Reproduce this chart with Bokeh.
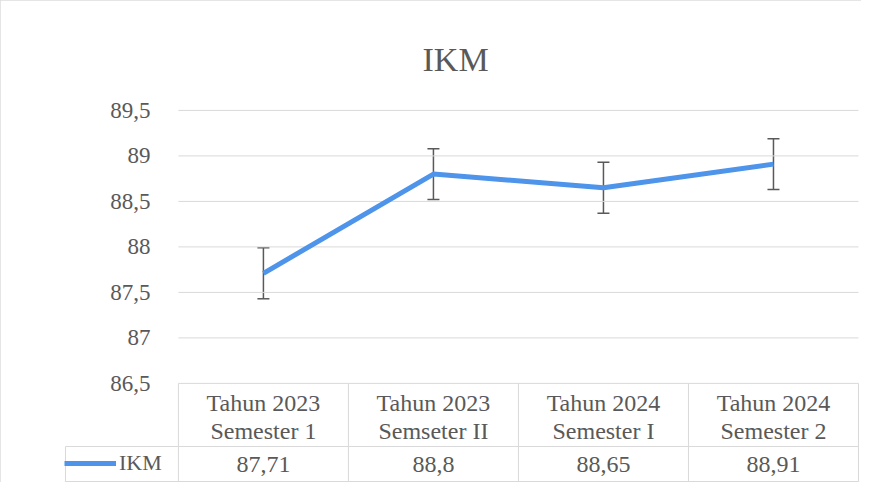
import numpy as np
from bokeh.plotting import figure
from bokeh.models import (Range1d, FixedTicker, ColumnDataSource, Whisker, TeeHead,
                          Legend, LegendItem)
from bokeh.core.properties import value
from bokeh.embed import file_html
from bokeh.resources import INLINE

# ---- data ----
categories = ["Tahun 2023\nSemester 1", "Tahun 2023\nSemseter II",
              "Tahun 2024\nSemester I", "Tahun 2024\nSemester 2"]
ikm = [87.71, 88.8, 88.65, 88.91]
ikm_labels = ["87,71", "88,8", "88,65", "88,91"]
ikm_err = [0.28, 0.28, 0.28, 0.28]
y_ticks = [86.5, 87, 87.5, 88, 88.5, 89, 89.5]
y_tick_labels = ["86,5", "87", "87,5", "88", "88,5", "89", "89,5"]
series_name = "IKM"
title_text = "IKM"

# ---- style ----
FONT = "Liberation Serif"
GRAY = "#595959"
GRID = "#d9d9d9"
BLUE = "#4d94ea"

# layout of the data table (y in data units below the axis minimum)
HEADER_Y = 86.131
ROW_SEP = 85.807
VALUE_Y = 85.609
TABLE_BOTTOM = 85.422
X_START = -0.670
CELL_LEFT = -0.664

n = len(categories)
xs = np.arange(n) + 0.5

p = figure(width=861, height=482, output_backend="svg", toolbar_location=None,
           x_axis_location=None,
           x_range=Range1d(X_START, n + 0.006), y_range=Range1d(85.411, 89.62),
           min_border_left=64, min_border_right=2, min_border_top=99,
           min_border_bottom=0)
p.styles = {"outline": "1px solid #dcdcdc", "outline-offset": "-1px"}
p.outline_line_color = None
p.background_fill_color = "white"
p.border_fill_color = "white"

p.title.text = title_text
p.title.align = "left"
p.title.offset = 358
p.title.standoff = 44
p.title.text_font = FONT
p.title.text_font_size = "34px"
p.title.text_font_style = "normal"
p.title.text_color = GRAY

p.xgrid.visible = False
p.ygrid.visible = False
p.yaxis.fixed_location = 0
p.yaxis.ticker = FixedTicker(ticks=y_ticks)
p.yaxis.major_label_overrides = {t: l for t, l in zip(y_ticks, y_tick_labels)}
p.yaxis.axis_line_color = None
p.yaxis.major_tick_line_color = None
p.yaxis.minor_tick_line_color = None
p.yaxis.major_label_standoff = 22
p.yaxis.major_label_text_font = FONT
p.yaxis.major_label_text_font_size = "23px"
p.yaxis.major_label_text_color = GRAY

# horizontal gridlines (only over the plot columns)
p.segment(x0=[0] * len(y_ticks), x1=[n] * len(y_ticks), y0=y_ticks, y1=y_ticks,
          line_color=GRID, line_width=1)

# data table lines
bounds = list(range(n + 1))
p.segment(x0=bounds, x1=bounds, y0=[y_ticks[0]] * (n + 1), y1=[TABLE_BOTTOM] * (n + 1),
          line_color=GRID, line_width=1)
p.segment(x0=[CELL_LEFT, CELL_LEFT, CELL_LEFT], x1=[n, n, CELL_LEFT],
          y0=[ROW_SEP, TABLE_BOTTOM, ROW_SEP], y1=[ROW_SEP, TABLE_BOTTOM, TABLE_BOTTOM],
          line_color=GRID, line_width=1)

p.text(x=xs, y=[HEADER_Y] * n, text=categories, text_align="center",
       text_baseline="middle", text_font=value(FONT), text_font_size="24px",
       text_color=GRAY, text_line_height=1.1)
p.text(x=xs, y=[VALUE_Y] * n, text=ikm_labels, text_align="center",
       text_baseline="middle", text_font=value(FONT), text_font_size="24px",
       text_color=GRAY)

# series with error bars
src = ColumnDataSource(dict(x=xs, y=ikm,
                            upper=[v + e for v, e in zip(ikm, ikm_err)],
                            lower=[v - e for v, e in zip(ikm, ikm_err)]))
w = Whisker(base="x", upper="upper", lower="lower", source=src,
            line_color=GRAY, line_width=1.5,
            upper_head=TeeHead(size=12, line_color=GRAY, line_width=1.5),
            lower_head=TeeHead(size=12, line_color=GRAY, line_width=1.5))
p.add_layout(w)
r = p.line("x", "y", source=src, line_color=BLUE, line_width=5)

legend = Legend(items=[LegendItem(label=series_name, renderers=[r])],
                location=(0, 6), margin=0, padding=4, spacing=0,
                glyph_width=52, glyph_height=26, label_standoff=3,
                label_text_font=FONT, label_text_font_size="22px",
                label_text_color=GRAY, border_line_color=None,
                background_fill_alpha=0)
p.add_layout(legend)

open("out.html", "w").write(file_html(p, INLINE))
